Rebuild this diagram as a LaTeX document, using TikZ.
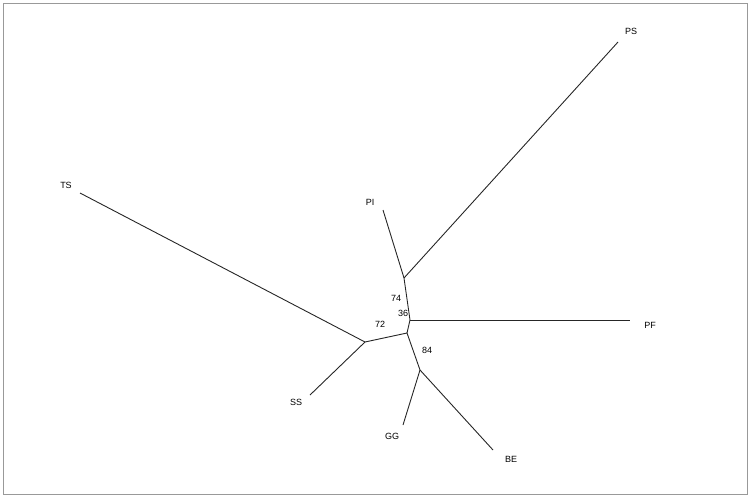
\documentclass[tikz,border=0pt]{standalone}
\usepackage{fontspec}
\setmainfont{Liberation Sans}
\usetikzlibrary{positioning}
\tikzset{
  branch/.style={draw=black!85,line width=0.9pt},
  taxon/.style={font=\fontsize{9}{10}\selectfont,inner sep=1pt},
  boot/.style={font=\fontsize{9}{10}\selectfont,inner sep=1pt}
}

\begin{document}
\begin{tikzpicture}[x=1pt,y=-1pt]
  \useasboundingbox (0,0) rectangle (751,498);
  \draw[black!40,line width=1.5pt] (3.5,3.5) rectangle (747.5,494.5);
  % Inner nodes
  \coordinate (uPS) at (404,278);
  \coordinate (uPF) at (410,320);
  \coordinate (uC)  at (407,333);
  \coordinate (uTS) at (365,342);
  \coordinate (uBE) at (420,370);
  % Leaf tips
  \coordinate (tPS) at (618,42);
  \coordinate (tPI) at (383,210);
  \coordinate (tPF) at (630,320);
  \coordinate (tTS) at (80,193);
  \coordinate (tSS) at (310,395);
  \coordinate (tGG) at (403,425);
  \coordinate (tBE) at (493,450);
  % Branches
  \draw[branch] (tPI) -- (uPS) -- (uPF) -- (uC) -- (uTS) -- (tTS);
  \draw[branch] (uPS) -- (tPS);
  \draw[branch] (uPF) -- (tPF);
  \draw[branch] (uTS) -- (tSS);
  \draw[branch] (uC) -- (uBE) -- (tGG);
  \draw[branch] (uBE) -- (tBE);
  % Taxon names
  \node[taxon] (PS) at (631,31)  {PS};
  \node[taxon] (PI) at (370,202) {PI};
  \node[taxon] (PF) at (650,325) {PF};
  \node[taxon] (TS) at (66,185)  {TS};
  \node[taxon] (SS) at (296,402) {SS};
  \node[taxon] (GG) at (392,436) {GG};
  \node[taxon] (BE) at (511,459) {BE};
  % Bootstrap values
  \node[boot] (b74) at (396,298) {74};
  \node[boot] (b36) at (403,313) {36};
  \node[boot] (b72) at (380,324) {72};
  \node[boot] (b84) at (427,350) {84};
\end{tikzpicture}
\end{document}
